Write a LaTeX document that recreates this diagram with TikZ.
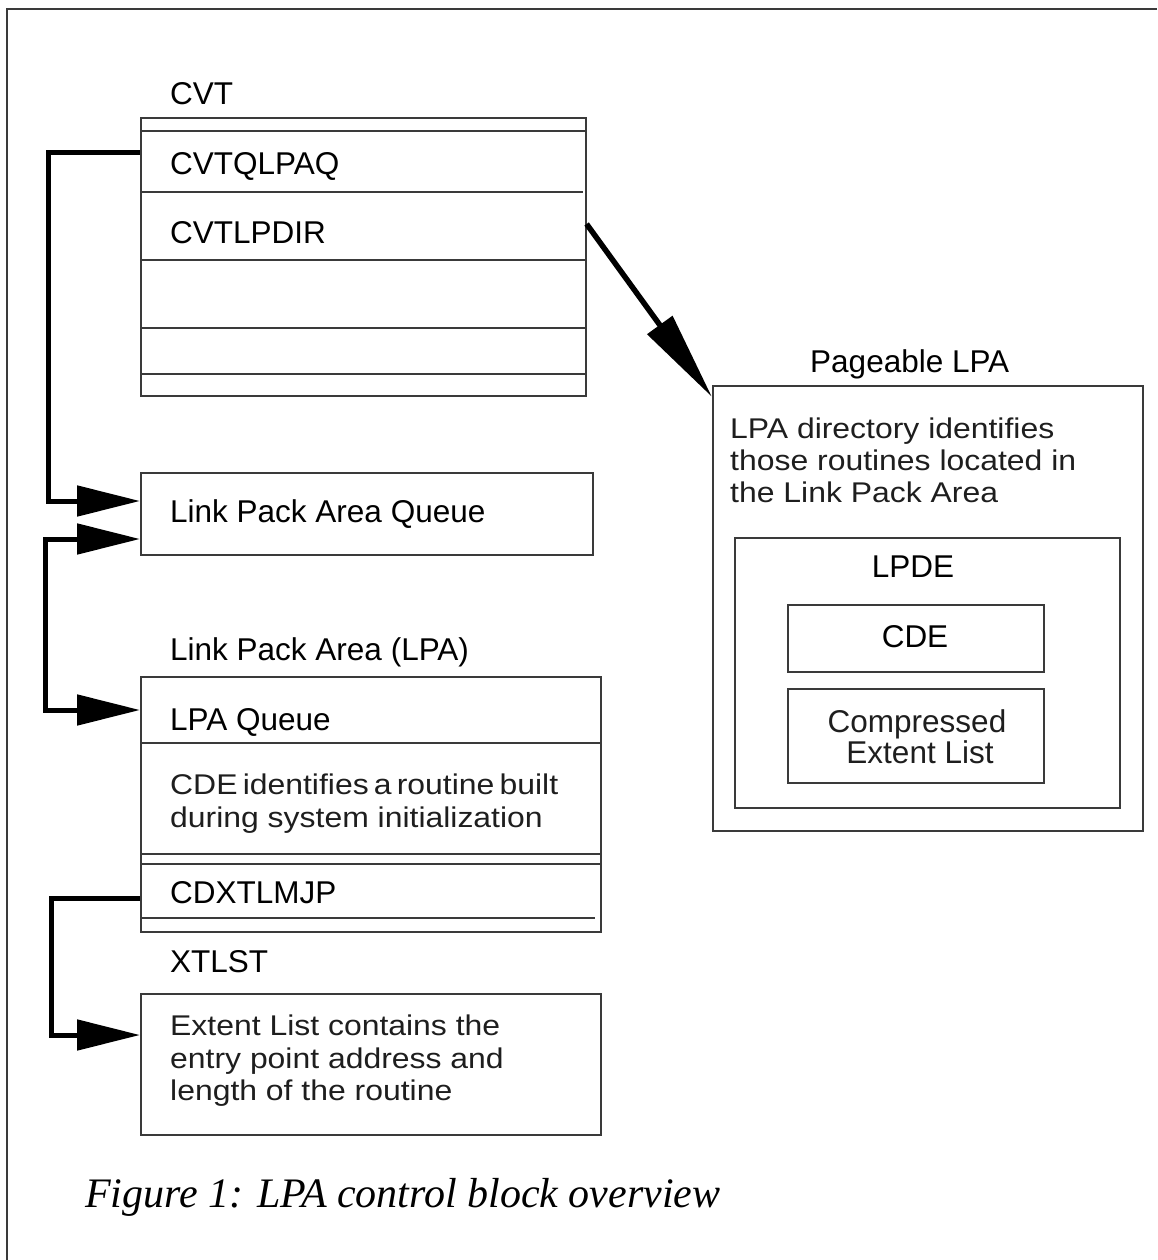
\documentclass[tikz,border=0pt]{standalone}
\usepackage{fontspec}
\setmainfont{Liberation Sans}
\newfontfamily\capfont{Liberation Serif}
\newfontfamily\widefont[FakeStretch=1.12]{Liberation Sans}
\usetikzlibrary{arrows.meta}
\definecolor{boxc}{HTML}{3A3A3A}
\definecolor{txtc}{HTML}{1E1E1E}
\begin{document}
\begin{tikzpicture}[x=1pt,y=-1pt,
  box/.style={draw=boxc, line width=1.6pt, inner sep=0pt, anchor=north west},
  rowline/.style={draw=boxc, line width=1.6pt},
  lbl/.style={anchor=base west, inner sep=0pt, text=black, font=\fontsize{31.5}{36}\selectfont},
  clbl/.style={anchor=base, inner sep=0pt, text=black, font=\fontsize{31.5}{36}\selectfont},
  body/.style={anchor=base west, inner sep=0pt, text=txtc, font=\widefont\fontsize{28.5}{32}\selectfont},
  tipL/.tip={Triangle[length=63pt,width=30pt]},
  conn/.style={line width=5pt, -tipL},
  dconn/.style={line width=5pt, tipL-tipL}]
\useasboundingbox (0,0) rectangle (1157,1260);
% frame
\draw[boxc, line width=1.5pt] (7,1260) -- (7,9) -- (1157,9);

% CVT
\node[lbl] (cvtlbl) at (170,105) {CVT};
\node[box, minimum width=445pt, minimum height=278pt] (cvt) at (140,117) {};
\draw[rowline] (cvt.west |- 0,131) -- (cvt.east |- 0,131);
\draw[rowline] (cvt.west |- 0,192) -- (583,192);
\draw[rowline] (cvt.west |- 0,260) -- (cvt.east |- 0,260);
\draw[rowline] (cvt.west |- 0,328) -- (cvt.east |- 0,328);
\draw[rowline] (cvt.west |- 0,374) -- (cvt.east |- 0,374);
\node[lbl] (cvtq) at (170,175) {CVTQLPAQ};
\node[lbl] (cvtd) at (170,243) {CVTLPDIR};

% Link Pack Area Queue
\node[box, minimum width=452pt, minimum height=82pt] (lpaq) at (140,472) {};
\node[lbl] (lpaqt) at (170,522) {Link Pack Area Queue};

% LPA
\node[lbl] (lpalbl) at (170,660) {Link Pack Area (LPA)};
\node[box, minimum width=460pt, minimum height=255pt] (lpa) at (140,676) {};
\draw[rowline] (lpa.west |- 0,743) -- (lpa.east |- 0,743);
\draw[rowline] (lpa.west |- 0,854) -- (lpa.east |- 0,854);
\draw[rowline] (lpa.west |- 0,864) -- (lpa.east |- 0,864);
\draw[rowline] (lpa.west |- 0,918) -- (595,918);
\node[lbl] (lpaqu) at (170,730) {LPA Queue};
\node[body] (cde1) at (170,794) {\spaceskip=5.2pt\relax CDE identifies a routine built};
\node[body] (cde2) at (170,827) {during system initialization};
\node[lbl] (cdx) at (170,903) {CDXTLMJP};

% XTLST
\node[lbl] (xtllbl) at (170,972) {XTLST};
\node[box, minimum width=460pt, minimum height=141pt] (xtl) at (140,993) {};
\node[body] (ext1) at (170,1035) {Extent List contains the};
\node[body] (ext2) at (170,1068) {entry point address and};
\node[body] (ext3) at (170,1100) {length of the routine};

% Pageable LPA
\node[lbl] (plbl) at (810,372) {Pageable LPA};
\node[box, minimum width=430pt, minimum height=445pt] (plpa) at (712,385) {};
\node[body] (dir1) at (730,438) {LPA directory identifies};
\node[body] (dir2) at (730,470) {those routines located in};
\node[body] (dir3) at (730,502) {the Link Pack Area};
\node[box, minimum width=385pt, minimum height=270pt] (lpde) at (734,537) {};
\node[clbl] (lpdet) at (913,577) {LPDE};
\node[box, minimum width=256pt, minimum height=67pt] (cde) at (787,604) {};
\node[clbl] (cdet) at (915,647) {CDE};
\node[box, minimum width=256pt, minimum height=94pt] (cel) at (787,688) {};
\node[clbl, text=txtc] (cel1) at (917,732) {Compressed};
\node[clbl, text=txtc] (cel2) at (920,763) {Extent List};

% connectors
\coordinate (cA) at (140,153);
\coordinate (cC) at (140,898);
\draw[conn] (cA) -- (48,153) -- (48,501) -- (lpaq.west |- 0,501);
\draw[dconn] (lpaq.west |- 0,539) -- (45,539) -- (45,710) -- (lpa.west |- 0,710);
\draw[conn] (cC) -- (51,898) -- (51,1035) -- (xtl.west |- 0,1035);
\draw[line width=5.5pt, -{Triangle[length=89pt,width=30pt]}] (cvt.east |- 0,224) -- (plpa.west |- 0,397);

% caption
\node[anchor=base west, inner sep=0pt, text=black, font=\capfont\itshape\fontsize{42}{48}\selectfont] (cap) at (85,1207) {Figure 1: LPA control block overview};
\end{tikzpicture}
\end{document}
